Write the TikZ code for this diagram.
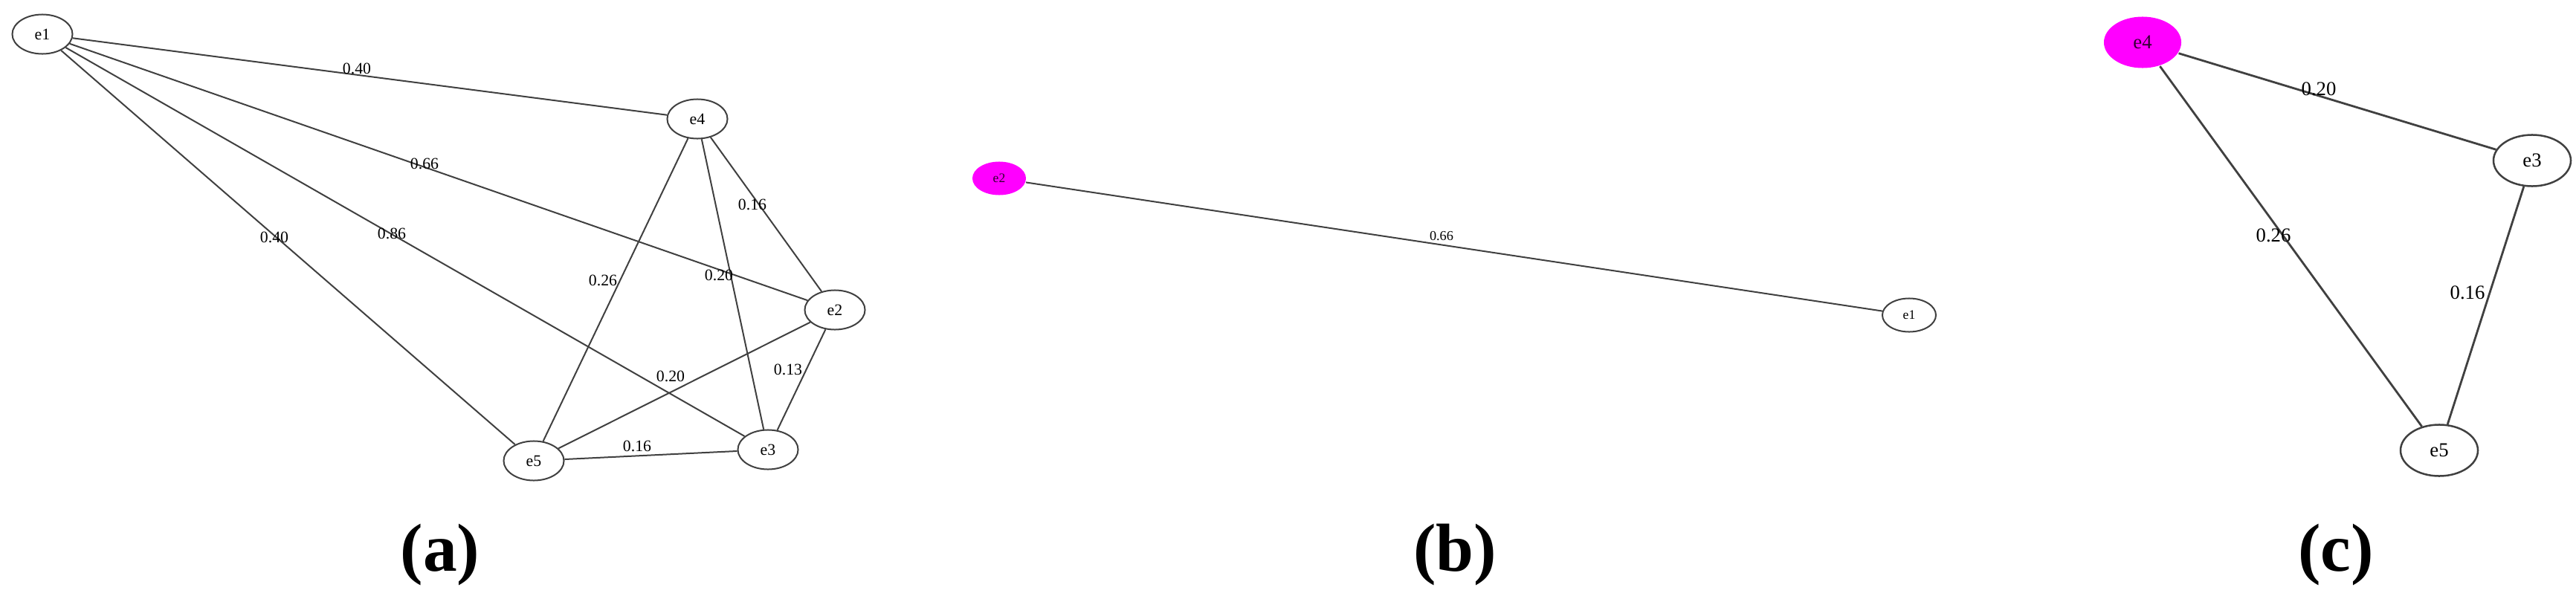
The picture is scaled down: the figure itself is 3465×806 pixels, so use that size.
\documentclass[tikz,border=0pt]{standalone}
\usepackage{fontspec}
\setmainfont{Liberation Serif}
\usetikzlibrary{shapes.geometric}
\definecolor{linegray}{HTML}{404040}
\definecolor{hot}{HTML}{FF00FF}
\tikzset{
  gnode/.style={ellipse, inner sep=0pt, draw=linegray, text=black},
  nodeA/.style={gnode, line width=0.2mm, minimum width=8.1mm, minimum height=5.3mm, font=\fontsize{6.2}{7}\selectfont},
  nodeB/.style={gnode, line width=0.2mm, minimum width=7.2mm, minimum height=4.5mm, font=\fontsize{5}{6}\selectfont},
  nodeC/.style={gnode, line width=0.25mm, minimum width=10.4mm, minimum height=6.9mm, font=\fontsize{7.6}{9}\selectfont},
  hotnode/.style={fill=hot, draw=none, text=black!80!hot},
  edgeA/.style={draw=linegray, line width=0.2mm},
  edgeC/.style={draw=linegray, line width=0.28mm},
  wA/.style={inner sep=0pt, font=\fontsize{6.2}{7}\selectfont},
  wB/.style={inner sep=0pt, font=\fontsize{5.2}{6}\selectfont},
  wC/.style={inner sep=0pt, font=\fontsize{7.6}{9}\selectfont},
  caption/.style={inner sep=0pt, font=\fontsize{26}{30}\selectfont\bfseries}
}
\begin{document}
\begin{tikzpicture}[x=0.01cm, y=-0.01cm]
\useasboundingbox (0,0) rectangle (3465,806);
% ---------- panel (a)
\node[nodeA] (a1) at (57,46) {e1};
\node[nodeA] (a4) at (938,160) {e4};
\node[nodeA] (a2) at (1123,417) {e2};
\node[nodeA] (a3) at (1033,605) {e3};
\node[nodeA] (a5) at (718,620) {e5};
\draw[edgeA] (a1) -- (a4);
\draw[edgeA] (a1) -- (a2);
\draw[edgeA] (a1) -- (a3);
\draw[edgeA] (a1) -- (a5);
\draw[edgeA] (a4) -- (a5);
\draw[edgeA] (a4) -- (a3);
\draw[edgeA] (a4) -- (a2);
\draw[edgeA] (a2) -- (a5);
\draw[edgeA] (a2) -- (a3);
\draw[edgeA] (a5) -- (a3);
\node[wA] (la14) at (480,92) {0.40};
\node[wA] (la12) at (571,220) {0.66};
\node[wA] (la42) at (1012,275) {0.16};
\node[wA] (la45) at (811,377) {0.26};
\node[wA] (la43) at (967,370) {0.20};
\node[wA] (la15) at (369,319) {0.40};
\node[wA] (la13) at (527,314) {0.86};
\node[wA] (la25) at (902,506) {0.20};
\node[wA] (la23) at (1060,497) {0.13};
\node[wA] (la53) at (857,600) {0.16};
% ---------- panel (b)
\node[nodeB, hotnode] (b2) at (1344,240) {e2};
\node[nodeB] (b1) at (2568,424) {e1};
\draw[edgeA] (b2) -- (b1);
\node[wB] (lb21) at (1939,318) {0.66};
% ---------- panel (c)
\node[nodeC, hotnode] (c4) at (2882,57) {e4};
\node[nodeC] (c3) at (3406,216) {e3};
\node[nodeC] (c5) at (3281,606) {e5};
\draw[edgeC] (c4) -- (c3);
\draw[edgeC] (c4) -- (c5);
\draw[edgeC] (c3) -- (c5);
\node[wC] (lc43) at (3119,120) {0.20};
\node[wC] (lc45) at (3058,317) {0.26};
\node[wC] (lc35) at (3319,394) {0.16};
% ---------- captions
\node[caption] (capa) at (592,747) {(a)};
\node[caption] (capb) at (1957,747) {(b)};
\node[caption] (capc) at (3142,747) {(c)};
\end{tikzpicture}
\end{document}
